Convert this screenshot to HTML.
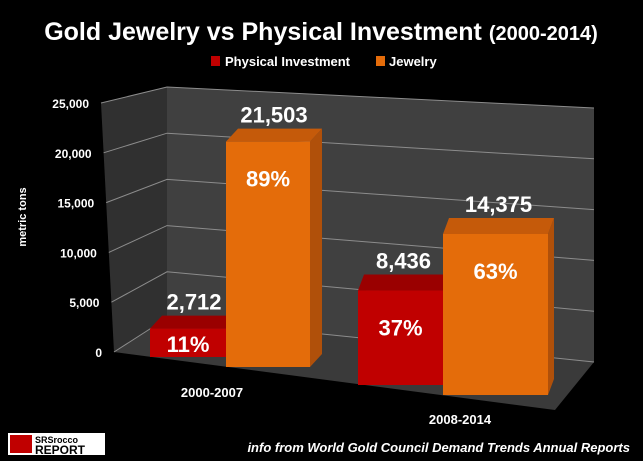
<!DOCTYPE html>
<html><head><meta charset="utf-8"><style>
html,body{margin:0;padding:0;background:#000;}
svg{display:block;font-family:"Liberation Sans",sans-serif;}
</style></head><body>
<svg id="chart" width="643" height="461" viewBox="0 0 643 461">
<rect width="643" height="461" fill="#000"/>
<text x="321" y="40" text-anchor="middle" fill="#fff" font-weight="bold" font-size="25">Gold Jewelry vs Physical Investment <tspan font-size="20">(2000-2014)</tspan></text>
<g>
<rect x="211" y="56" width="9" height="10" fill="#c00000"/>
<text x="225" y="66" fill="#fff" font-weight="bold" font-size="13">Physical Investment</text>
<rect x="376" y="56" width="9" height="10" fill="#e46c0a"/>
<text x="389" y="66" fill="#fff" font-weight="bold" font-size="13">Jewelry</text>
</g>
<polygon points="167,87 594,108 594,362 167,318" fill="#404040"/>
<polygon points="101,103 167,87 167,318 114,352" fill="#303030"/>
<polygon points="114,352 167,318 594,362 555,410" fill="#3a3a3a"/>
<g id="grid"></g>
<g id="bars"></g>
<g id="labels"></g>
<text transform="translate(26,217) rotate(-90)" text-anchor="middle" fill="#fff" font-weight="bold" font-size="11">metric tons</text>
<text x="212" y="397" text-anchor="middle" fill="#fff" font-weight="bold" font-size="13">2000-2007</text>
<text x="460" y="424" text-anchor="middle" fill="#fff" font-weight="bold" font-size="13">2008-2014</text>
<g>
<rect x="8" y="433" width="97" height="22" fill="#fff"/>
<rect x="10" y="435" width="22" height="18" fill="#c00000"/>
<text x="35" y="443" fill="#000" font-weight="bold" font-size="9">SRSrocco</text>
<text x="35" y="454" fill="#000" font-weight="bold" font-size="12">REPORT</text>
</g>
<text x="630" y="452" text-anchor="end" fill="#fff" font-style="italic" font-weight="bold" font-size="13">info from World Gold Council Demand Trends Annual Reports</text>
</svg>
<script>
const categories = ["2000-2007", "2008-2014"];
const physical = [2712, 8436];
const jewelry = [21503, 14375];
const physicalPct = ["11%", "37%"];
const jewelryPct = ["89%", "63%"];
const yTicks = [0, 5000, 10000, 15000, 20000, 25000];
const yTickLabels = ["0", "5,000", "10,000", "15,000", "20,000", "25,000"];

const NS = "http://www.w3.org/2000/svg";
function mk(tag, attrs, parent) { const e = document.createElementNS(NS, tag); for (const k in attrs) e.setAttribute(k, attrs[k]); parent.appendChild(e); return e; }
const MAX = 25000;
const backL = v => 318 - v * 231 / MAX;
const backR = v => 362 - v * 254 / MAX;
const frontY = v => 352 - v * 249 / MAX;
const frontX = v => 114 - v * 13 / MAX;

const grid = document.getElementById("grid");
yTicks.forEach((v, i) => {
  const l = mk("polyline", {points: `${frontX(v)},${frontY(v)} 167,${backL(v)} 594,${backR(v)}`, fill: "none", stroke: "#8c8c8c", "stroke-width": 1}, grid);
  
  
  const t = mk("text", {x: frontX(v) - 12, y: frontY(v) + 5, "text-anchor": "end", fill: "#fff", "font-weight": "bold", "font-size": 12}, grid);
  t.textContent = yTickLabels[i];
  
  
});

// group geometry (layout only)
const groups = [
  {red: [150, 226, 357], org: [226, 310, 367], k: 262 / MAX, d: [12, -13]},
  {red: [358, 443, 385], org: [443, 548, 395], k: 280 / MAX, d: [6, -16]}
];
const bars = document.getElementById("bars"), labels = document.getElementById("labels");
function bar(geo, val, k, d, cols, name, valTxt, pctTxt) {
  const [x0, x1, yb] = geo, yt = yb - val * k, [dx, dy] = d;
  const g = mk("g", {}, bars);
  
  
  mk("polygon", {points: `${x1},${yb} ${x1+dx},${yb+dy} ${x1+dx},${yt+dy} ${x1},${yt}`, fill: cols[2]}, g);
  mk("polygon", {points: `${x0},${yt} ${x0+dx},${yt+dy} ${x1+dx},${yt+dy} ${x1},${yt}`, fill: cols[1]}, g);
  mk("rect", {x: x0, y: yt, width: x1 - x0, height: yb - yt, fill: cols[0]}, g);
  const cx = (x0 + x1) / 2;
  const vt = mk("text", {x: cx + dx / 2, y: yt + dy - 6, "text-anchor": "middle", fill: "#fff", "font-weight": "bold", "font-size": 22}, labels);
  vt.textContent = valTxt;
  
  
  const py = Math.min(yt + 45, (yt + yb) / 2 + 9);
  const pt = mk("text", {x: cx, y: py, "text-anchor": "middle", fill: "#fff", "font-weight": "bold", "font-size": 22}, labels);
  pt.textContent = pctTxt;
  
  
}
categories.forEach((c, i) => {
  const G = groups[i];
  bar(G.red, physical[i], G.k, G.d, ["#c00000", "#9a0000", "#8a0000"], "bar-physical-" + c, physical[i].toLocaleString("en-US"), physicalPct[i]);
  bar(G.org, jewelry[i], G.k, G.d, ["#e46c0a", "#c55a0a", "#b0500a"], "bar-jewelry-" + c, jewelry[i].toLocaleString("en-US"), jewelryPct[i]);
});
</script>
</body></html>
